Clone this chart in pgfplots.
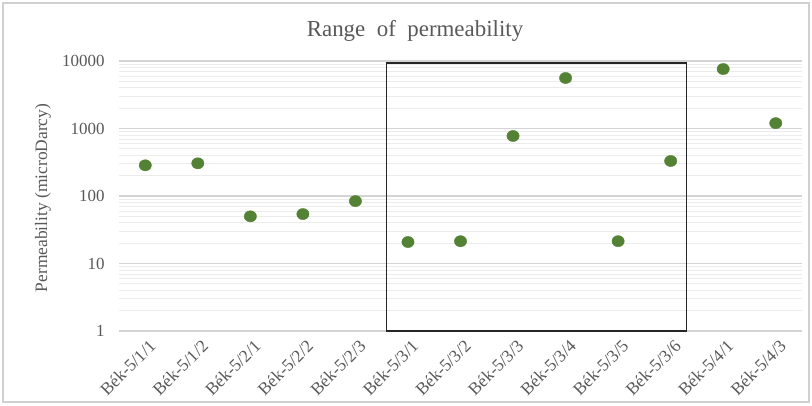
\documentclass[border=0pt]{standalone}
\usepackage{pgfplots}
\pgfplotsset{compat=1.18}
\usepackage{fontspec}
\setmainfont{Liberation Serif}
\definecolor{ptgreen}{HTML}{548235}
\definecolor{txtgray}{HTML}{595959}
\definecolor{majgrid}{HTML}{D4D4D4}
\definecolor{mingrid}{HTML}{ECECEC}
\definecolor{framegray}{HTML}{D0D0D0}
\begin{document}
\begin{tikzpicture}[x=1bp,y=1bp]
\path[use as bounding box] (0,0) rectangle (812,405);
\fill[white] (0,0) rectangle (812,405);
\draw[framegray, line width=1.2bp] (3,3) rectangle (809,402);
\node[text=txtgray, font=\fontsize{23}{23}\selectfont] at (415,374) {Range\ \ of\ \ permeability};
\node[text=txtgray, font=\fontsize{17.5}{17.5}\selectfont, rotate=90] at (43,207) {Permeability (microDarcy)};
\begin{axis}[
  at={(119bp,74bp)}, anchor=south west,
  scale only axis, width=683bp, height=270bp,
  ymode=log, ymin=1, ymax=10000,
  xmin=-0.5, xmax=12.5,
  clip=false,
  axis x line=bottom, axis y line=left,
  x axis line style={draw=majgrid, line width=1bp, -},
  y axis line style={draw=none},
  major tick length=0pt, minor tick length=0pt,
  xtick={0,...,12},
  xticklabels={Bék-5/1/1,Bék-5/1/2,Bék-5/2/1,Bék-5/2/2,Bék-5/2/3,Bék-5/3/1,Bék-5/3/2,Bék-5/3/3,Bék-5/3/4,Bék-5/3/5,Bék-5/3/6,Bék-5/4/1,Bék-5/4/3},
  x tick label style={rotate=45, anchor=north east, text=txtgray, font=\fontsize{17.5}{17.5}\selectfont, yshift=-4bp, xshift=0bp},
  ytick={1,10,100,1000,10000},
  yticklabels={1,10,100,1000,10000},
  y tick label style={text=txtgray, font=\fontsize{17}{17}\selectfont, xshift=-11bp},
  ymajorgrids, yminorgrids,
  major grid style={draw=majgrid, line width=1.1bp},
  minor grid style={draw=mingrid, line width=0.9bp},
]
\addplot[only marks, mark=*, mark size=5.6bp, mark options={xscale=1.1, fill=ptgreen, draw=ptgreen}]
  coordinates {
    (0,285) (1,305) (2,50) (3,54) (4,84)
    (5,20.8) (6,21.4) (7,775) (8,5600) (9,21.4)
    (10,330) (11,7600) (12,1200)
  };
\draw[black!85, line width=1.6bp] (axis cs:4.59,1) rectangle (axis cs:10.3,9300);
\end{axis}
\end{tikzpicture}
\end{document}
